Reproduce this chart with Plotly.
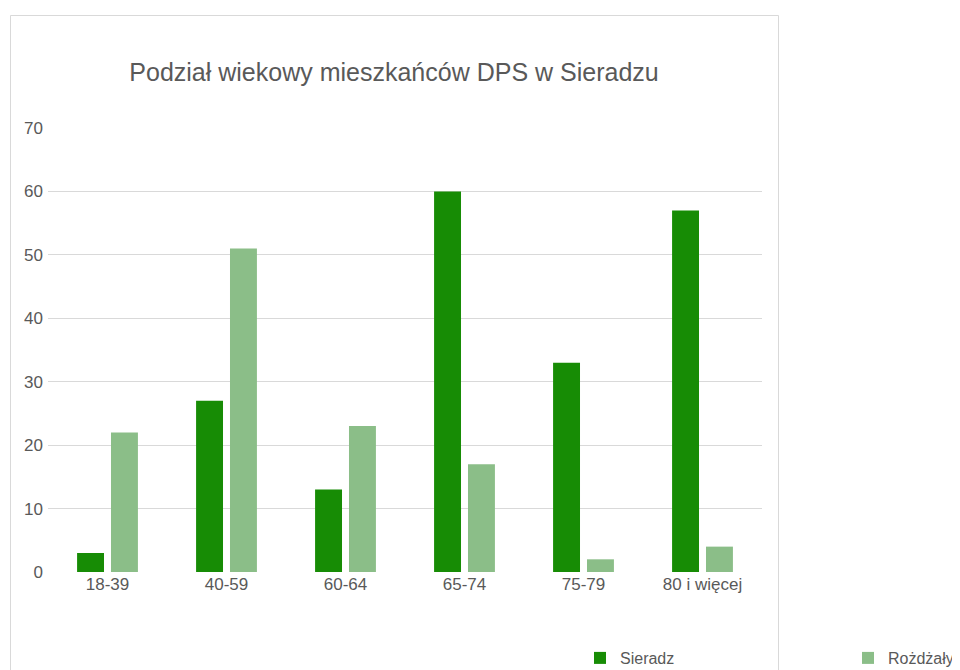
import plotly.graph_objects as go

categories = ["18-39", "40-59", "60-64", "65-74", "75-79", "80 i więcej"]
sieradz = [3, 27, 13, 60, 33, 57]
rozdzaly = [22, 51, 23, 17, 2, 4]
series_names = ["Sieradz", "Rożdżały"]
title_text = "Podział wiekowy mieszkańców DPS w Sieradzu"

FONT = "Liberation Sans Narrow, Arial Narrow, Liberation Sans, Arial, sans-serif"
TXT = "#595959"

# page body adds an 8px offset; positions below are in figure pixels
W, H = 960, 670
L, T = 40, 120
pw, ph = 714, 444
R = W - L - pw
B = H - T - ph

def px_x(p):
    return (p - L) / pw

def px_y(p):
    return (T + ph - p) / ph

fig = go.Figure()
fig.add_trace(go.Bar(x=categories, y=sieradz, name=series_names[0],
                     marker=dict(color="#178C05", line=dict(width=0)),
                     legend="legend"))
fig.add_trace(go.Bar(x=categories, y=rozdzaly, name=series_names[1],
                     marker=dict(color="#8BBE88", line=dict(width=0)),
                     legend="legend2"))

leg_common = dict(orientation="h", xanchor="left", yanchor="middle",
                  font=dict(size=16, color=TXT), bgcolor="rgba(0,0,0,0)",
                  borderwidth=0)

fig.update_layout(
    width=W, height=H,
    margin=dict(l=L, r=R, t=T, b=B, autoexpand=False),
    paper_bgcolor="white", plot_bgcolor="white",
    font=dict(family=FONT, size=17, color=TXT),
    barmode="group", bargap=0.43, bargroupgap=0.206,
    showlegend=True,
    title=dict(text=title_text, x=386 / W, xanchor="center",
               y=1 - 64 / H, yanchor="middle", yref="container",
               font=dict(family=FONT, size=25, color=TXT)),
    xaxis=dict(showgrid=False, showline=False, ticks="", zeroline=False,
               automargin=False, tickfont=dict(size=17, color=TXT)),
    yaxis=dict(range=[0, 70], dtick=10, showgrid=True, gridcolor="#d9d9d9",
               gridwidth=1, zeroline=False, showline=False, ticks="",
               automargin=False, ticklabelstandoff=4,
               tickfont=dict(size=17, color=TXT)),
    legend=dict(x=px_x(572), y=px_y(650), **leg_common),
    legend2=dict(x=px_x(840), y=px_y(650), **leg_common),
    shapes=[dict(type="rect", xref="paper", yref="paper",
                 x0=px_x(2.5), x1=px_x(770.5), y0=px_y(700), y1=px_y(7.5),
                 line=dict(color="#d9d9d9", width=1), fillcolor="rgba(0,0,0,0)",
                 layer="below")],
)

fig.write_html("out.html")
